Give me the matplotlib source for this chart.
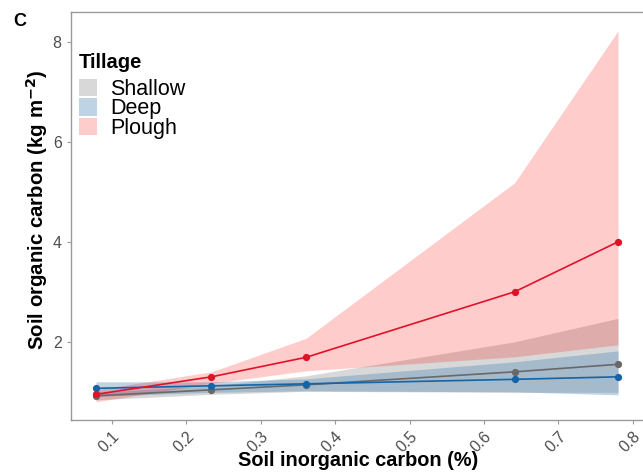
import numpy as np
import matplotlib.pyplot as plt
from matplotlib.patches import Patch

plt.rcParams['font.family'] = ['Liberation Sans', 'DejaVu Sans']

# Soil inorganic carbon (%) at which the predictions are made
sic = [0.079, 0.234, 0.361, 0.641, 0.780]

# Predicted soil organic carbon (kg m-2) and confidence ribbons
shallow = [0.93, 1.05, 1.15, 1.41, 1.56]
shallow_lo = [0.85, 0.96, 1.02, 1.00, 1.00]
shallow_hi = [1.00, 1.13, 1.33, 2.01, 2.48]

deep = [1.08, 1.13, 1.17, 1.26, 1.31]
deep_lo = [0.92, 1.00, 1.03, 1.01, 0.95]
deep_hi = [1.21, 1.21, 1.27, 1.61, 1.83]

plough = [0.96, 1.31, 1.70, 3.01, 4.01]
plough_lo = [0.81, 1.18, 1.43, 1.71, 1.95]
plough_hi = [1.05, 1.41, 2.08, 5.19, 8.23]

labels = ['Shallow', 'Deep', 'Plough']
line_colors = ['#696969', '#1464a8', '#e0122a']
fill_colors = ['#808080', '#4682b4', '#ff0000']
fill_alpha = [0.3, 0.35, 0.2]

fig = plt.figure(figsize=(6.43, 4.73), dpi=100)
ax = fig.add_axes([0.110, 0.112, 0.890, 0.863])

series = [(shallow, shallow_lo, shallow_hi),
          (deep, deep_lo, deep_hi),
          (plough, plough_lo, plough_hi)]

# ribbons first, then the lines on top
for (mid, lo, hi), fc, a in zip(series, fill_colors, fill_alpha):
    ax.fill_between(sic, lo, hi, color=fc, alpha=a, linewidth=0)
for (mid, lo, hi), lc in zip(series, line_colors):
    ax.plot(sic, mid, color=lc, lw=1.2, marker='o', ms=4.2)

ax.set_xlim(0.045, 0.8135)
ax.set_ylim(0.446, 8.61)
ax.set_xticks([0.1, 0.2, 0.3, 0.4, 0.5, 0.6, 0.7, 0.8])
ax.set_xticklabels(['0.1', '0.2', '0.3', '0.4', '0.5', '0.6', '0.7', '0.8'],
                   rotation=45, ha='right', va='top', rotation_mode='anchor')
ax.set_yticks([2, 4, 6, 8])

for s in ['left', 'bottom', 'top']:
    ax.spines[s].set_color('#999999')
    ax.spines[s].set_linewidth(1.0)
ax.spines['right'].set_visible(False)
ax.tick_params(colors='#999999', labelcolor='#4d4d4d', labelsize=11.5, length=3, width=0.8)

ax.set_xlabel('Soil inorganic carbon (%)', fontsize=14.3, fontweight='bold', va='center')
ax.xaxis.set_label_coords(0.502, -0.100)
ax.set_ylabel('Soil organic carbon (kg m$^{\\mathbf{-2}}$)', fontsize=14.7,
              fontweight='bold', va='center')
ax.yaxis.set_label_coords(-0.059, 0.514)

handles = [Patch(facecolor=fc, alpha=a, edgecolor='none') for fc, a in zip(fill_colors, fill_alpha)]
leg = ax.legend(handles, labels, loc='upper left', frameon=False,
                bbox_to_anchor=(0.009, 0.843), fontsize=15.5,
                handlelength=0.85, handleheight=0.85, handletextpad=0.6,
                labelspacing=-0.08, borderaxespad=0.15, borderpad=0.0)
ax.text(0.0135, 0.875, 'Tillage', transform=ax.transAxes, fontsize=14.5,
        fontweight='bold', va='center', ha='left')

fig.text(0.02, 0.955, 'C', fontsize=13, fontweight='bold', va='center')

fig.savefig('out.png', dpi=100)
